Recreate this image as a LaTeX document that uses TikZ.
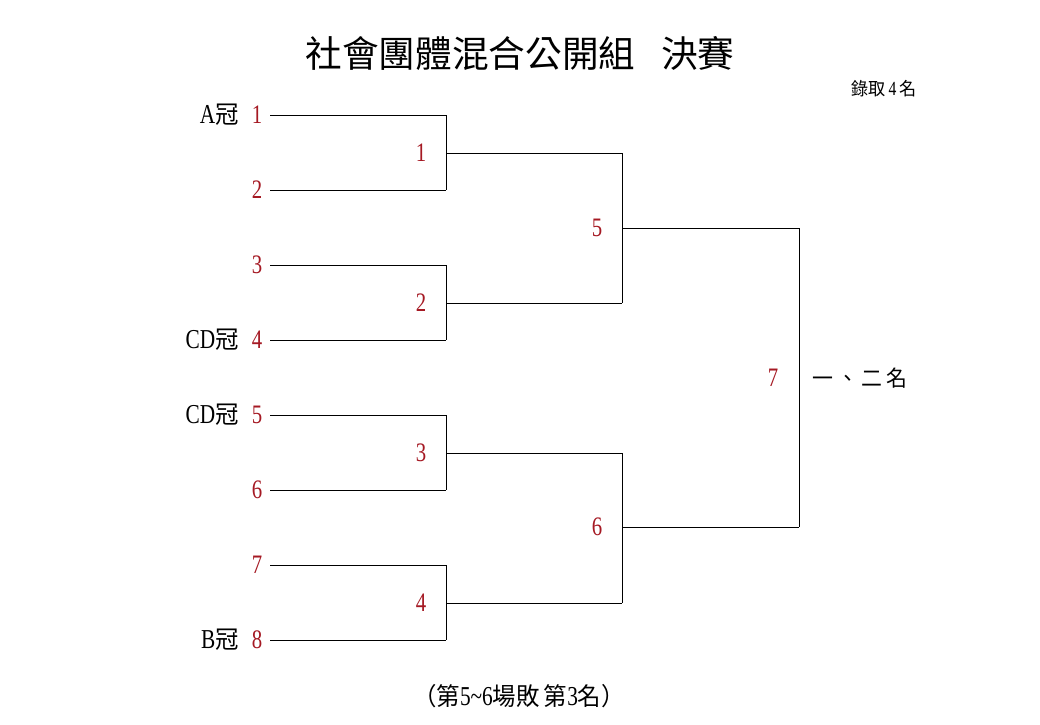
\documentclass[tikz,border=0pt]{standalone}
\usepackage{fontspec}
\setmainfont{Liberation Serif}[FakeStretch=0.78]
\newfontfamily\cjk{Noto Sans CJK TC}[FakeStretch=0.95]
\newfontfamily\cjktitle{Noto Sans CJK TC}
\definecolor{seedred}{RGB}{165,25,35}
\newcommand{\cj}[1]{{\cjk\fontsize{18.5}{20}\selectfont #1}}
\begin{document}
\begin{tikzpicture}[x=0.75pt,y=-0.75pt,
  wire/.style={draw=black,line width=0.75pt},
  seed/.style={text=seedred,font=\fontsize{20}{22}\selectfont,inner sep=0pt},
  matchlbl/.style={text=seedred,font=\fontsize{20}{22}\selectfont,inner sep=0pt},
  team/.style={anchor=east,font=\fontsize{20.5}{22}\selectfont,inner sep=0pt},
  title/.style={font=\cjktitle\fontsize{27.5}{30}\selectfont,inner sep=0pt},
  note/.style={font=\fontsize{15}{17}\selectfont,inner sep=0pt}]
\useasboundingbox (0,0) rectangle (1040,725);
\fill[white] (0,0) rectangle (1040,725);
\node[title] (ttl) at (520,53) {社會團體混合公開組\hspace{0.7em}決賽};
\node[note] (quota) at (884,89) {{\cjk\fontsize{13.5}{16}\selectfont 錄取}\,4\,{\cjk\fontsize{13.5}{16}\selectfont 名}};
% first round entries
\foreach \i/\y in {1/115,2/190,3/265,4/340,5/415,6/490,7/565,8/640}{
  \node[seed] (s\i) at (257,\y) {\i};
  \coordinate (p\i) at (270,\y);
  \coordinate (q\i) at (446,\y);
  \draw[wire] (p\i) -- (q\i);
}
\node[team] (ta) at (239,115) {A\cj{冠}};
\node[team] (tcd1) at (239,340) {CD\cj{冠}};
\node[team] (tcd2) at (239,415) {CD\cj{冠}};
\node[team] (tb) at (239,640) {B\cj{冠}};
% first round matches
\foreach \m/\a/\b/\y in {1/1/2/153,2/3/4/303,3/5/6/453,4/7/8/603}{
  \draw[wire] (q\a) -- (q\b);
  \coordinate (r\m) at (446,\y);
  \coordinate (t\m) at (622,\y);
  \draw[wire] (r\m) -- (t\m);
  \node[matchlbl] (n\m) at (421,\y) {\m};
}
% second round
\draw[wire] (t1) -- (t2);
\coordinate (u5) at (622,228);
\coordinate (v5) at (799,228);
\draw[wire] (u5) -- (v5);
\node[matchlbl] (n5) at (597,228) {5};
\draw[wire] (t3) -- (t4);
\coordinate (u6) at (622,527);
\coordinate (v6) at (799,527);
\draw[wire] (u6) -- (v6);
\node[matchlbl] (n6) at (597,527) {6};
% final
\draw[wire] (v5) -- (v6);
\node[matchlbl] (n7) at (773,378) {7};
\node[team,anchor=center,font=\cjk\fontsize{16.5}{18}\selectfont] (res) at (860,378) {一\,、\,二\,名};
\node[team,anchor=center] (third) at (519,696) {\cj{（第}5\textasciitilde6\cj{場敗\,第}3\cj{名）}};
\end{tikzpicture}
\end{document}
